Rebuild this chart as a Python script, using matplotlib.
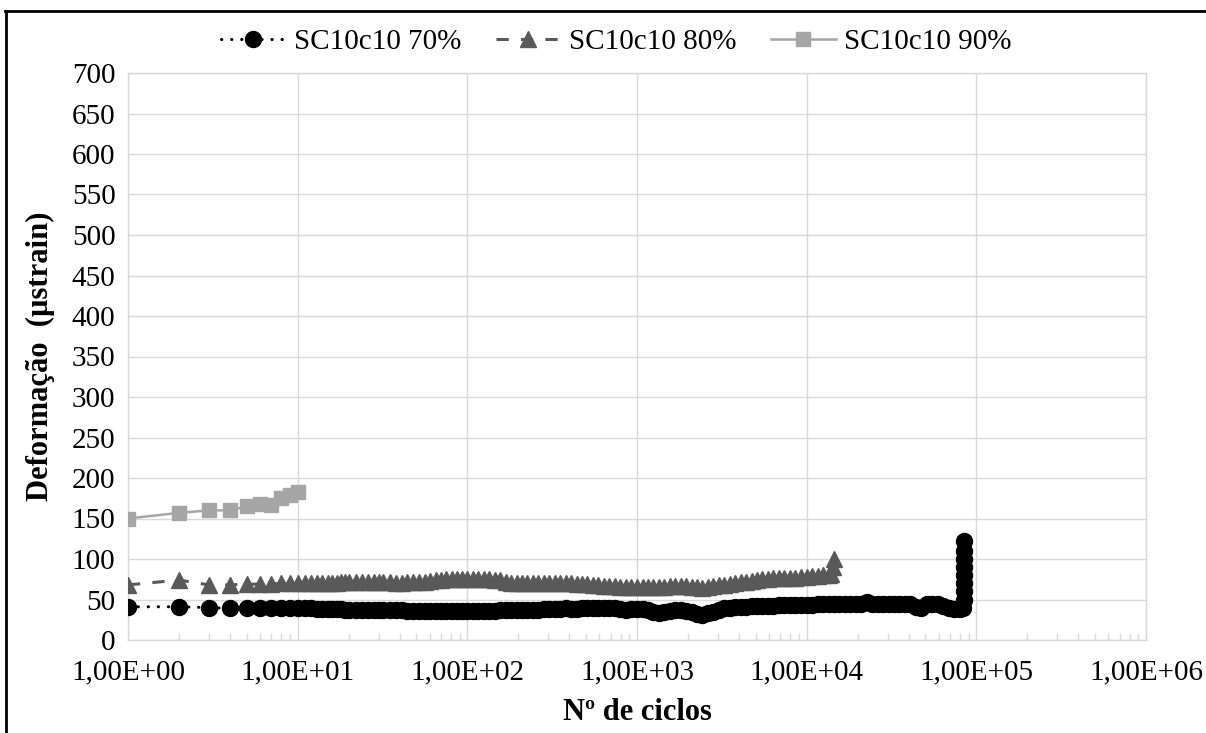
import numpy as np
import matplotlib
matplotlib.use("Agg")
import matplotlib.pyplot as plt
from matplotlib.lines import Line2D
from matplotlib.ticker import FixedLocator, FuncFormatter, NullFormatter

plt.rcParams['font.family'] = ['Liberation Serif', 'DejaVu Serif']

# SC10c10 70%
ciclos_70 = [1, 2, 3, 4, 5, 6, 7, 8, 9, 10,
             11, 12, 13, 14, 15, 16, 17, 18, 19, 20, 22, 24, 26, 28, 30, 32, 35, 38, 41, 44,
             48, 52, 56, 60, 65, 70, 75, 81, 87, 93, 100,
             108, 116, 125, 135, 145, 156, 168, 181, 195, 210, 226, 243, 262, 282, 304, 327,
             352, 379, 408, 440, 474, 510, 549, 591, 637, 686, 739, 796, 857, 923, 1000,
             1080, 1160, 1250, 1350, 1450, 1560, 1680, 1810, 1950, 2100, 2260, 2430, 2620,
             2820, 3040, 3270, 3520, 3790, 4080, 4400, 4740, 5100, 5490, 5910, 6370, 6860,
             7390, 7960, 8570, 9230, 10000,
             10800, 11600, 12500, 13500, 14500, 15600, 16800, 18100, 19500, 21000, 22600,
             24300, 26200, 28200, 30400, 32700, 35200, 37900, 40800, 44000, 47400, 51000,
             54900, 59100, 63700, 68600, 73900, 79600, 84000,
             84100, 84200, 84300, 84400, 84500, 84600, 84700, 84800]
deform_70 = [41, 41, 40, 39, 39, 39, 39, 40, 39, 39,
             39, 39, 38, 38, 38, 38, 38, 38, 37, 37, 37, 37, 37, 37, 37, 37, 37, 37, 37, 36,
             36, 36, 36, 36, 36, 36, 36, 36, 36, 36, 36,
             36, 36, 36, 36, 36, 37, 37, 37, 37, 37, 37, 37, 37, 38, 38, 38,
             38, 39, 38, 38, 39, 39, 39, 39, 40, 40, 39, 38, 37, 38, 38,
             38, 37, 35, 33, 34, 36, 37, 37, 36, 35, 32, 31, 33,
             35, 37, 39, 40, 41, 41, 41, 42, 42, 42, 42, 42, 43,
             43, 43, 43, 43, 43,
             43, 44, 44, 44, 44, 44, 44, 44, 45, 45, 47,
             45, 44, 44, 44, 45, 45, 45, 44, 41, 39, 44,
             44, 44, 42, 40, 38, 38, 40,
             50, 60, 70, 80, 90, 100, 110, 122]

# SC10c10 80%
ciclos_80 = [1, 2, 3, 4, 5, 6, 7, 8, 9, 10,
             11, 12, 13, 14, 15, 16, 17, 18, 19, 20, 22, 24, 26, 28, 30, 32, 35, 38, 41, 44,
             48, 52, 56, 60, 65, 70, 75, 81, 87, 93, 100,
             108, 116, 125, 135, 145, 156, 168, 181, 195, 210, 226, 243, 262, 282, 304, 327,
             352, 379, 408, 440, 474, 510, 549, 591, 637, 686, 739, 796, 857, 923, 1000,
             1080, 1160, 1250, 1350, 1450, 1560, 1680, 1810, 1950, 2100, 2260, 2430, 2620,
             2820, 3040, 3270, 3520, 3790, 4080, 4400, 4740, 5100, 5490, 5910, 6370, 6860,
             7390, 7960, 8570, 9230, 10000,
             10800, 11600, 12500, 13500, 14000, 14300, 14500]
deform_80 = [68, 74, 68, 68, 69, 69, 69, 70, 70, 70,
             70, 70, 70, 70, 70, 70, 70, 71, 71, 71, 71, 72, 72, 72, 72, 71, 71, 70, 70, 71,
             71, 72, 72, 73, 74, 74, 75, 75, 75, 75, 75,
             75, 75, 75, 75, 74, 74, 72, 70, 70, 70, 70, 70, 70, 70, 70, 70,
             70, 70, 70, 69, 69, 69, 68, 68, 67, 67, 67, 66, 66, 66, 66,
             66, 66, 66, 66, 66, 67, 67, 67, 67, 66, 65, 64, 65,
             67, 68, 68, 69, 70, 71, 72, 73, 74, 75, 75, 76, 76,
             77, 77, 77, 78, 78,
             79, 79, 80, 80, 82, 90, 100]

# SC10c10 90%
ciclos_90 = [1, 2, 3, 4, 5, 6, 7, 8, 9, 10]
deform_90 = [150, 157, 160, 160, 165, 168, 167, 175, 179, 183]

x_ticks = [1, 10, 100, 1000, 10000, 100000, 1000000]
y_ticks = list(range(0, 701, 50))

W, H = 1206, 733
fig = plt.figure(figsize=(W / 100, H / 100), dpi=100)
ax = fig.add_axes([128 / W, 1 - 640 / H, (1146 - 128) / W, (640 - 73) / H])

ax.plot(ciclos_70, deform_70, color='black', lw=2.2, linestyle=(0, (0.1, 3.2)),
        dash_capstyle='round', marker='o', markersize=11.5, label='SC10c10 70%', zorder=3)
ax.plot(ciclos_80, deform_80, color='#595959', lw=2.2, linestyle=(0, (4, 4)),
        marker='^', markersize=11.5, label='SC10c10 80%', zorder=3)
ax.plot(ciclos_90, deform_90, color='#A6A6A6', lw=1.8, linestyle='-',
        marker='s', markersize=10, label='SC10c10 90%', zorder=3)

ax.set_xscale('log')
ax.set_xlim(1, 1e6)
ax.set_ylim(0, 700)
ax.yaxis.set_major_locator(FixedLocator(y_ticks))
ax.xaxis.set_major_locator(FixedLocator(x_ticks))
minors = [m * t for t in x_ticks[:-1] for m in range(2, 10)]
ax.xaxis.set_minor_locator(FixedLocator(minors))
ax.xaxis.set_minor_formatter(NullFormatter())
ax.xaxis.set_major_formatter(FuncFormatter(lambda v, p: "1,00E+%02d" % int(round(np.log10(v)))))

ax.grid(True, which='major', color='#D9D9D9', lw=1)
ax.set_axisbelow(True)
for s in ax.spines.values():
    s.set_color('#D9D9D9')
    s.set_linewidth(1)

ax.tick_params(axis='both', which='major', length=0, labelsize=21)
ax.tick_params(axis='x', which='major', pad=14)
ax.tick_params(axis='y', which='major', pad=9)
ax.tick_params(axis='x', which='minor', direction='in', length=5, color='#D9D9D9', width=1)

ax.set_xlabel('Nº de ciclos', fontsize=22, fontweight='bold')
ax.set_ylabel('Deformação  (µstrain)', fontsize=22, fontweight='bold')
ax.xaxis.set_label_coords(0.5, -(713 - 640) / 567)
ax.xaxis.label.set_va('center')
ax.yaxis.set_label_coords(-(128 - 40) / 1018, 0.5)
ax.yaxis.label.set_va('center')

fig.legend(loc='center', bbox_to_anchor=(0.511, 1 - 42 / H), ncol=3, frameon=False,
           fontsize=21, handlelength=2.2, handletextpad=0.3, columnspacing=1.2)

# figure border (top and left only visible)
fig.add_artist(Line2D([5 / W, 1], [1 - 11 / H, 1 - 11 / H], color='black', lw=2))
fig.add_artist(Line2D([6 / W, 6 / W], [0, 1 - 11 / H], color='black', lw=2))

fig.savefig('out.png', dpi=100)
